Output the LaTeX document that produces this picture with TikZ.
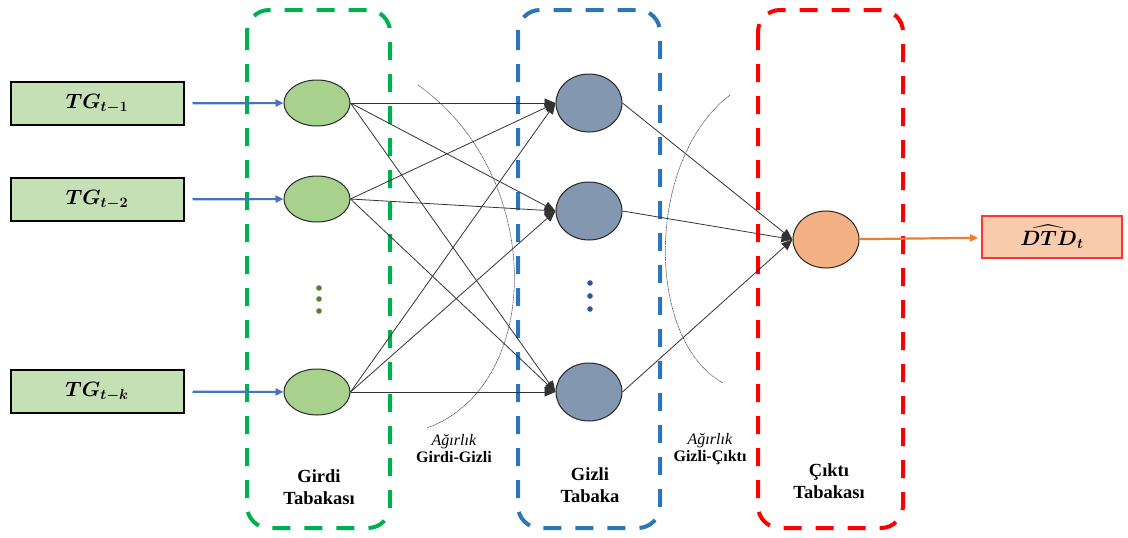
\documentclass[tikz,border=0pt]{standalone}
\usepackage{amsmath}
\usepackage{bm}
\usepackage{fontspec}
\setmainfont{Liberation Serif}
\usetikzlibrary{arrows.meta,shapes.geometric}
\definecolor{inbox}{HTML}{C5E0B4}
\definecolor{incirc}{HTML}{A9D18E}
\definecolor{hidcirc}{HTML}{8497B0}
\definecolor{outcirc}{HTML}{F4B183}
\definecolor{outbox}{HTML}{F8CBAD}
\definecolor{gframe}{HTML}{00B050}
\definecolor{bframe}{HTML}{2E75B6}
\definecolor{rframe}{HTML}{FF0000}
\definecolor{inarrow}{HTML}{4472C4}
\definecolor{outarrow}{HTML}{ED7D31}
\definecolor{gdot}{HTML}{548235}
\definecolor{bdot}{HTML}{2F5597}
\tikzset{
  layerframe/.style={line width=4pt, dash pattern=on 18pt off 14pt, rounded corners=22pt},
  inputbox/.style={draw=black, line width=2pt, fill=inbox, minimum width=173pt, minimum height=43pt, inner sep=0pt, font=\fontsize{22}{26}\selectfont},
  neuron/.style={ellipse, draw=black!85, line width=1pt, inner sep=0pt},
  inneuron/.style={neuron, fill=incirc, minimum width=66pt, minimum height=46pt},
  hidneuron/.style={neuron, fill=hidcirc, minimum width=66pt, minimum height=58pt},
  outneuron/.style={neuron, fill=outcirc, minimum width=66pt, minimum height=57pt},
  weight/.style={line width=0.8pt, draw=black!80, -{Triangle[length=11pt,width=9pt]}},
  feedin/.style={line width=2.2pt, draw=inarrow, -{Triangle[length=8pt,width=7pt]}, shorten <=8pt},
  feedout/.style={line width=2.2pt, draw=outarrow, -{Triangle[length=8pt,width=7pt]}, shorten >=3pt},
  layerlabel/.style={font=\bfseries\fontsize{18.5}{22}\selectfont, align=center},
  weightlabel/.style={font=\fontsize{16}{17}\selectfont, align=center},
  arcline/.style={line width=0.6pt, draw=black!75, dash pattern=on 1pt off 0.6pt},
}
\begin{document}
\begin{tikzpicture}[x=1pt,y=-1pt]
\useasboundingbox (0,0) rectangle (1128,538);
% layer frames
\draw[layerframe, draw=gframe] (247,10) rectangle (390,528);
\draw[layerframe, draw=bframe] (518,10) rectangle (660,528);
\draw[layerframe, draw=rframe] (758,10) rectangle (903,528);
% input boxes
\node[inputbox] (b1) at (97,103.5) {$\bm{TG_{t-1}}$};
\node[inputbox] (b2) at (97,199.5) {$\bm{TG_{t-2}}$};
\node[inputbox] (b3) at (97,391.5) {$\bm{TG_{t-k}}$};
% input neurons
\node[inneuron] (i1) at (317,103) {};
\node[inneuron] (i2) at (317,199) {};
\node[inneuron] (i3) at (317,392) {};
% hidden neurons
\node[hidneuron] (h1) at (589,103) {};
\node[hidneuron] (h2) at (589,211) {};
\node[hidneuron] (h3) at (589,392) {};
% output neuron
\node[outneuron] (o) at (826,239.5) {};
% output box
\node[draw=rframe!80, line width=1.8pt, fill=outbox, minimum width=140pt, minimum height=42pt, inner sep=0pt, font=\fontsize{21}{24}\selectfont] (ob) at (1052,237) {$\bm{\widehat{DTD}_t}$};
% dots
\foreach \yy in {288,299,311}{
  \fill[gdot] (319,\yy) circle (2.8pt);
}
\foreach \yy in {283,296,309}{
  \fill[bdot] (590,\yy) circle (2.8pt);
}
% feed arrows
\draw[feedin] (b1) -- (i1);
\draw[feedin] (b2) -- (i2);
\draw[feedin] (b3) -- (i3);
\draw[feedout] (o) -- (ob);
% weights input-hidden
\foreach \a in {i1,i2,i3}{
  \foreach \b in {h1,h2,h3}{
    \draw[weight] (\a.east) -- (\b.west);
  }
}
% weights hidden-output
\foreach \b in {h1,h2,h3}{
  \draw[weight] (\b.east) -- (o.west);
}
% arcs
\draw[arcline] (418,85) .. controls (545,175) and (545,385) .. (427,428);
\draw[arcline] (730,95) .. controls (645,160) and (645,340) .. (723,383);
% labels
\node[weightlabel] (w1) at (454,449) {\textit{Ağırlık}\\\textbf{Girdi-Gizli}};
\node[weightlabel] (w2) at (710,449) {\textit{Ağırlık}\\\textbf{Gizli-Çıktı}};
\node[layerlabel] (l1) at (319,487) {Girdi\\Tabakası};
\node[layerlabel] (l2) at (590,485) {Gizli\\Tabaka};
\node[layerlabel] (l3) at (829,481) {Çıktı\\Tabakası};
\end{tikzpicture}
\end{document}
